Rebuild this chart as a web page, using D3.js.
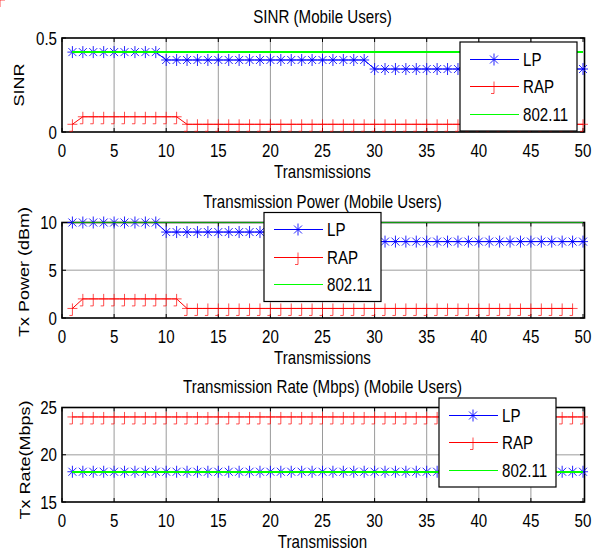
<!DOCTYPE html>
<head>
  <meta charset="utf-8">
  <script src="https://cdn.jsdelivr.net/npm/d3@7"></script>
  <style>
    body { margin:0; background:white; }
    svg { display:block; }
    text { font-family: "Liberation Sans", Arial, Helvetica, sans-serif; font-size:18px; fill:#000; }
  </style>
</head>
<body>
<script>
  // transmissions 1..50
  var transmissions = [1,2,3,4,5,6,7,8,9,10,11,12,13,14,15,16,17,18,19,20,21,22,23,24,25,
                       26,27,28,29,30,31,32,33,34,35,36,37,38,39,40,41,42,43,44,45,46,47,48,49,50];
  var xTicks = [0,5,10,15,20,25,30,35,40,45,50];

  // SINR
  var sinrLP = [0.425,0.425,0.425,0.425,0.425,0.425,0.425,0.425,0.425,
                0.383,0.383,0.383,0.383,0.383,0.383,0.383,0.383,0.383,0.383,
                0.383,0.383,0.383,0.383,0.383,0.383,0.383,0.383,0.383,0.383,
                0.335,0.335,0.335,0.335,0.335,0.335,0.335,0.335,0.335,0.335,0.335,
                0.335,0.335,0.335,0.335,0.335,0.335,0.335,0.335,0.335,0.335];
  var sinrRAP = [0.041,0.081,0.081,0.081,0.081,0.081,0.081,0.081,0.081,0.081,0.081,
                 0.041,0.041,0.041,0.041,0.041,0.041,0.041,0.041,0.041,0.041,0.041,0.041,0.041,
                 0.041,0.041,0.041,0.041,0.041,0.041,0.041,0.041,0.041,0.041,0.041,0.041,0.041,
                 0.041,0.041,0.041,0.041,0.041,0.041,0.041,0.041,0.041,0.041,0.041,0.041,0.041];
  var sinrWifi = [0.425,0.425,0.425,0.425,0.425,0.425,0.425,0.425,0.425,0.425,
                  0.425,0.425,0.425,0.425,0.425,0.425,0.425,0.425,0.425,0.425,
                  0.425,0.425,0.425,0.425,0.425,0.425,0.425,0.425,0.425,0.425,
                  0.425,0.425,0.425,0.425,0.425,0.425,0.425,0.425,0.425,0.425,
                  0.425,0.425,0.425,0.425,0.425,0.425,0.425,0.425,0.425,0.425];

  // Tx power (dBm)
  var powerLP = [10,10,10,10,10,10,10,10,10,
                 9,9,9,9,9,9,9,9,9,9,9,9,9,9,9,9,9,9,9,9,
                 8,8,8,8,8,8,8,8,8,8,8,8,8,8,8,8,8,8,8,8,8];
  var powerRAP = [1,2,2,2,2,2,2,2,2,2,2,
                  1,1,1,1,1,1,1,1,1,1,1,1,1,1,1,1,1,1,1,
                  1,1,1,1,1,1,1,1,1,1,1,1,1,1,1,1,1,1,1];
  var powerWifi = [10,10,10,10,10,10,10,10,10,10,10,10,10,10,10,10,10,10,10,10,10,10,10,10,10,
                   10,10,10,10,10,10,10,10,10,10,10,10,10,10,10,10,10,10,10,10,10,10,10,10,10];

  // Tx rate (Mbps)
  var rateLP = [18.2,18.2,18.2,18.2,18.2,18.2,18.2,18.2,18.2,18.2,18.2,18.2,18.2,18.2,18.2,18.2,18.2,
                18.2,18.2,18.2,18.2,18.2,18.2,18.2,18.2,18.2,18.2,18.2,18.2,18.2,18.2,18.2,18.2,18.2,
                18.2,18.2,18.2,18.2,18.2,18.2,18.2,18.2,18.2,18.2,18.2,18.2,18.2,18.2,18.2,18.2];
  var rateRAP = [24,24,24,24,24,24,24,24,24,24,24,24,24,24,24,24,24,24,24,24,24,24,24,24,24,
                 24,24,24,24,24,24,24,24,24,24,24,24,24,24,24,24,24,24,24,24,24,24,24,24,24];
  var rateWifi = [18.2,18.2,18.2,18.2,18.2,18.2,18.2,18.2,18.2,18.2,18.2,18.2,18.2,18.2,18.2,18.2,18.2,
                  18.2,18.2,18.2,18.2,18.2,18.2,18.2,18.2,18.2,18.2,18.2,18.2,18.2,18.2,18.2,18.2,18.2,
                  18.2,18.2,18.2,18.2,18.2,18.2,18.2,18.2,18.2,18.2,18.2,18.2,18.2,18.2,18.2,18.2];

  var seriesNames = ["LP", "RAP", "802.11"];

  var panels = [
    { title: "SINR (Mobile Users)", ylabel: "SINR", xlabel: "Transmissions",
      series: [sinrLP, sinrRAP, sinrWifi], yDomain: [0, 0.5], yTicks: [0, 0.5], yFmt: function(d){ return d === 0 ? "0" : String(d); },
      top: 38, bottom: 132, legend: [460, 42], ylabX: 24, ylabY: 85, wifiColor: "#00ff00" },
    { title: "Transmission Power (Mobile Users)", ylabel: "Tx Power (dBm)", xlabel: "Transmissions",
      series: [powerLP, powerRAP, powerWifi], yDomain: [0, 10], yTicks: [0, 5, 10], yFmt: String,
      top: 222.5, bottom: 318, legend: [264, 212.5], ylabX: 29, ylabY: 272, wifiColor: "#119a11" },
    { title: "Transmission Rate (Mbps) (Mobile Users)", ylabel: "Tx Rate(Mbps)", xlabel: "Transmission",
      series: [rateLP, rateRAP, rateWifi], yDomain: [15, 25], yTicks: [15, 20, 25], yFmt: String,
      top: 407.5, bottom: 502, legend: [439, 398], ylabX: 29.5, ylabY: 460, wifiColor: "#00ff00" }
  ];

  var colors = ["#0000ff", "#ff0000", "#00ff00"];
  var width = 592, height = 552;
  var left = 62, right = 583;
  var sx = 0.84; // horizontal squeeze of the text

  var svg = d3.select("body").append("svg").attr("width", width).attr("height", height);

  var x = d3.scaleLinear().domain([0, 50]).range([left, right]);

  function label(g, px, py, str, anchor, rot) {
    var t = g.append("text")
      .attr("text-anchor", anchor || "middle")
      .text(str);
    if (rot) t.attr("transform", "translate(" + px + "," + py + ") rotate(-90) scale(1," + sx + ")");
    else t.attr("transform", "translate(" + px + "," + py + ") scale(" + sx + ",1)");
    return t;
  }

  function marker(g, kind, px, py, color) {
    var d = kind === 0
      ? "M0,-6V6M-4,-4L4,4M-4,4L4,-4M-5,0H5"
      : "M-5,0H5M0,-5V7h-3";
    g.append("path").attr("d", d)
      .attr("transform", "translate(" + px + "," + py + ")")
      .attr("fill", "none").attr("stroke", color).attr("stroke-width", 1)
      .attr("stroke-opacity", kind === 0 ? 0.85 : 0.7);
  }

  panels.forEach(function(p) {
    var y = d3.scaleLinear().domain(p.yDomain).range([p.bottom, p.top]);
    var g = svg.append("g");

    // grid
    g.selectAll("line.vg").data(xTicks.slice(1, -1)).enter().append("line")
      .attr("x1", x).attr("x2", x).attr("y1", p.top).attr("y2", p.bottom)
      .attr("stroke", "#9a9a9a").attr("stroke-width", 1);
    g.selectAll("line.hg").data(p.yTicks.slice(1, -1)).enter().append("line")
      .attr("x1", left).attr("x2", right).attr("y1", y).attr("y2", y)
      .attr("stroke", "#bdbdbd").attr("stroke-width", 1.5);

    // ticks inside
    xTicks.forEach(function(t) {
      g.append("line").attr("x1", x(t)).attr("x2", x(t)).attr("y1", p.bottom).attr("y2", p.bottom - 4).attr("stroke", "#000");
      g.append("line").attr("x1", x(t)).attr("x2", x(t)).attr("y1", p.top).attr("y2", p.top + 4).attr("stroke", "#000");
    });
    p.yTicks.forEach(function(t) {
      g.append("line").attr("x1", left).attr("x2", left + 4).attr("y1", y(t)).attr("y2", y(t)).attr("stroke", "#000");
      g.append("line").attr("x1", right + 1).attr("x2", right - 3).attr("y1", y(t)).attr("y2", y(t)).attr("stroke", "#000");
    });

    // frame
    g.append("rect").attr("x", left).attr("y", p.top)
      .attr("width", right + 1.5 - left).attr("height", p.bottom - p.top)
      .attr("fill", "none").attr("stroke", "#000").attr("stroke-width", 1.6);

    // series
    p.series.forEach(function(vals, si) {
      var pts = transmissions.map(function(t, i) { return [x(t), y(vals[i])]; });
      var path = g.append("path").attr("d", d3.line()(pts))
        .attr("fill", "none").attr("stroke", si === 2 ? p.wifiColor : colors[si])
        .attr("stroke-width", si === 2 ? 1.6 : 1);
      if (si === 2) path.attr("shape-rendering", "crispEdges");
      if (si < 2) pts.forEach(function(pt) { marker(g, si, pt[0], pt[1], colors[si]); });
    });

    // tick labels
    xTicks.forEach(function(t) { label(g, x(t), p.bottom + 24.5, String(t), "middle"); });
    p.yTicks.forEach(function(t) { label(g, 57, y(t) + 6.5, p.yFmt(t), "end"); });

    // titles
    label(g, (left + right) / 2, p.top - 15, p.title, "middle");
    label(g, (left + right) / 2, p.bottom + 46, p.xlabel, "middle");
    label(g, p.ylabX, p.ylabY, p.ylabel, "middle", true);

    // legend
    var lx = p.legend[0], ly = p.legend[1];
    var lg = svg.append("g");
    lg.append("rect").attr("x", lx).attr("y", ly).attr("width", 117).attr("height", 89)
      .attr("fill", "#fff").attr("stroke", "#000").attr("stroke-width", 1.2);
    seriesNames.forEach(function(name, si) {
      var ey = Math.round(ly + 16.5 + si * 27.5) + 0.5;
      lg.append("line").attr("x1", lx + 10).attr("x2", lx + 59).attr("y1", ey).attr("y2", ey)
        .attr("stroke", colors[si]).attr("stroke-width", 1)
        .attr("shape-rendering", "crispEdges");
      if (si < 2) marker(lg, si, lx + 34, ey, colors[si]);
      label(lg, lx + 63, ey + 6.5, name, "start");
    });
  });
</script>
</body>
